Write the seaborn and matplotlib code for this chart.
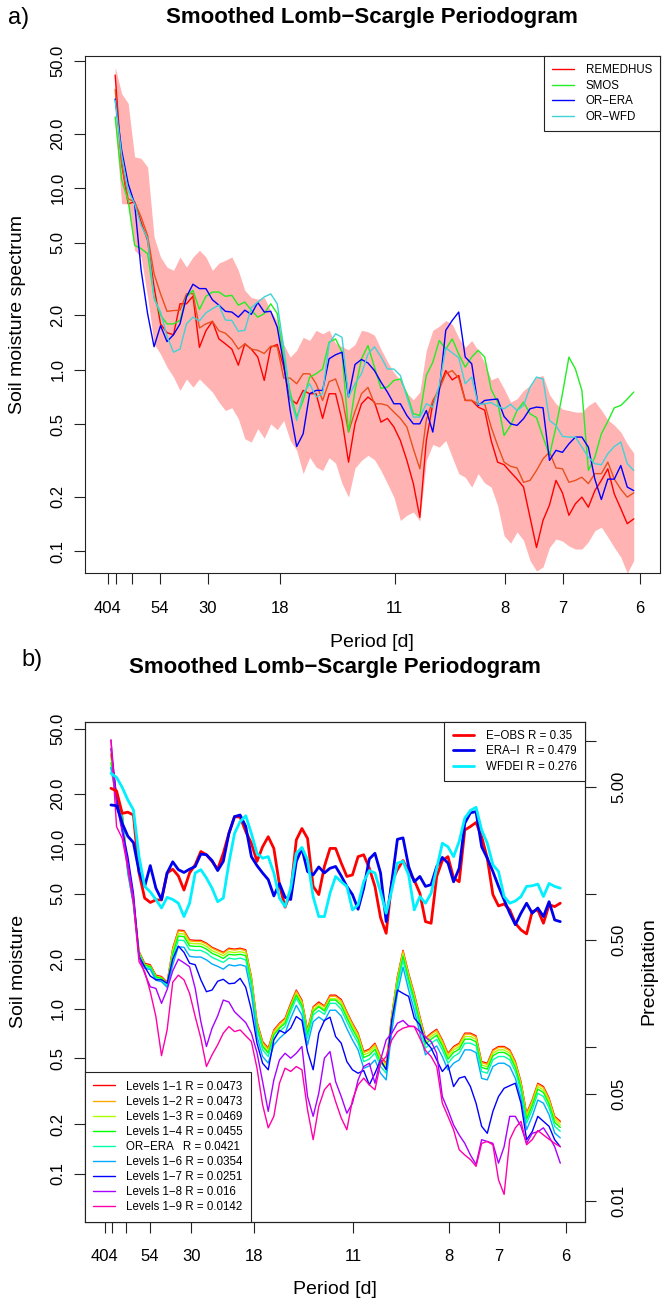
import numpy as np
import pandas as pd
import matplotlib
matplotlib.use("Agg")
import matplotlib.pyplot as plt
import seaborn as sns
from matplotlib.lines import Line2D
from matplotlib.ticker import FixedLocator, NullLocator

sns.set_theme(style="ticks")
plt.rcParams["font.family"] = ["Liberation Sans", "DejaVu Sans"]
for k in ["text.color", "axes.labelcolor", "xtick.color", "ytick.color"]:
    plt.rcParams[k] = "black"

# ---------------- data ----------------
freq = [0.0047, 0.0067, 0.0087, 0.0107, 0.0127, 0.0147, 0.0167, 0.0187, 0.0207, 0.0227,
        0.0247, 0.0267, 0.0287, 0.0307, 0.0327, 0.0347, 0.0367, 0.0387, 0.0407, 0.0427,
        0.0447, 0.0467, 0.0487, 0.0507, 0.0527, 0.0547, 0.0567, 0.0587, 0.0607, 0.0627,
        0.0647, 0.0667, 0.0687, 0.0707, 0.0727, 0.0747, 0.0767, 0.0787, 0.0807, 0.0827,
        0.0847, 0.0867, 0.0887, 0.0907, 0.0927, 0.0947, 0.0967, 0.0987, 0.1007, 0.1027,
        0.1047, 0.1067, 0.1087, 0.1107, 0.1127, 0.1147, 0.1167, 0.1187, 0.1207, 0.1227,
        0.1247, 0.1267, 0.1287, 0.1307, 0.1327, 0.1347, 0.1367, 0.1387, 0.1407, 0.1427,
        0.1447, 0.1467, 0.1487, 0.1507, 0.1527, 0.1547, 0.1567, 0.1587, 0.1607, 0.1627,
        0.1647]

period_ticks = [404, 202, 101, 54, 30, 18, 11, 8, 7, 6]
period_labels = ["404", "", "", "54", "30", "18", "11", "8", "7", "6"]
sm_ticks = [0.1, 0.2, 0.5, 1, 2, 5, 10, 20, 50]
sm_labels = ["0.1", "0.2", "0.5", "1.0", "2.0", "5.0", "10.0", "20.0", "50.0"]
pr_ticks = [0.01, 0.05, 0.1, 0.5, 1, 5, 10]
pr_labels = ["0.01", "0.05", "", "0.50", "", "5.00", ""]

# panel a
remedhus = [42, 13.7, 8.22, 8.4, 6.5, 5.16, 2.86, 1.79, 1.6, 1.56,
            2.31, 2.31, 2.54, 1.33, 1.64, 1.85, 1.48, 1.39, 1.3, 1.06,
            1.39, 1.3, 1.175, 0.874, 1.33, 1.38, 1.035, 0.69, 0.65, 0.77,
            0.738, 0.738, 0.54, 0.738, 0.738, 0.526, 0.31, 0.504, 0.65, 0.708,
            0.664, 0.515, 0.54, 0.484, 0.408, 0.317, 0.236, 0.154, 0.408, 0.65,
            0.803, 0.99, 0.88, 0.93, 0.678, 0.678, 0.623, 0.6, 0.408, 0.31,
            0.3, 0.273, 0.25, 0.226, 0.154, 0.105, 0.148, 0.18, 0.246, 0.21,
            0.158, 0.183, 0.199, 0.175, 0.216, 0.246, 0.285, 0.207, 0.172, 0.142,
            0.151]
remedhus_median = [35, 13.7, 8.75, 8.4, 6.94, 5.5, 3.38, 2.62, 2.1, 2.12,
                   2.13, 2.62, 2.63, 1.7, 1.79, 1.85, 1.64, 1.59, 1.47, 1.3,
                   1.39, 1.3, 1.28, 1.23, 1.35, 1.34, 0.9, 0.9, 0.838, 0.951,
                   0.951, 0.838, 0.678, 0.86, 0.89, 0.708, 0.454, 0.59, 0.738, 0.8,
                   0.65, 0.65, 0.636, 0.585, 0.54, 0.484, 0.367, 0.285, 0.53, 0.678,
                   0.78, 0.951, 0.99, 0.9, 0.678, 0.678, 0.65, 0.65, 0.484, 0.383,
                   0.31, 0.294, 0.288, 0.24, 0.246, 0.279, 0.323, 0.352, 0.288, 0.285,
                   0.24, 0.246, 0.256, 0.236, 0.268, 0.268, 0.31, 0.25, 0.22, 0.199,
                   0.21]
smos = [24.7, 11.1, 8.57, 4.85, 4.65, 4.36, 2.52, 2.0, 1.79, 1.79,
        1.87, 2.52, 2.74, 2.15, 2.54, 2.68, 2.68, 2.54, 2.57, 2.27,
        2.36, 2.13, 1.95, 2.04, 2.31, 2.04, 1.175, 0.754, 0.549, 0.678,
        0.912, 0.951, 1.01, 1.42, 1.48, 1.25, 0.454, 0.77, 1.15, 1.36,
        1.035, 0.79, 0.803, 0.874, 0.89, 0.738, 0.573, 0.56, 0.93, 1.1,
        1.45, 1.3, 1.48, 1.22, 1.035, 1.175, 1.28, 1.175, 0.78, 0.664,
        0.435, 0.494, 0.597, 0.664, 0.573, 0.545, 0.426, 0.338, 0.484, 0.738,
        1.175, 1.01, 0.77, 0.279, 0.33, 0.444, 0.52, 0.618, 0.636, 0.69,
        0.754]
or_era = [31, 16.2, 10.6, 8.22, 3.55, 2.04, 1.34, 1.75, 1.43, 1.56,
          1.79, 2.52, 2.96, 2.8, 2.8, 2.43, 2.27, 2.1, 2.08, 1.95,
          2.13, 2.02, 2.35, 2.08, 2.1, 1.72, 1.08, 0.597, 0.378, 0.444,
          0.738, 0.77, 0.77, 1.15, 1.21, 1.25, 0.708, 1.07, 1.14, 1.09,
          0.99, 0.856, 0.754, 0.65, 0.65, 0.56, 0.504, 0.504, 0.597, 0.454,
          0.77, 1.65, 1.87, 2.08, 1.175, 1.08, 0.636, 0.678, 0.685, 0.69,
          0.553, 0.504, 0.494, 0.538, 0.61, 0.623, 0.618, 0.317, 0.36, 0.351,
          0.391, 0.426, 0.426, 0.375, 0.25, 0.193, 0.25, 0.25, 0.297, 0.226,
          0.216]
or_wfd = [30.5, 15.2, 9.73, 8.22, 6.25, 5.27, 2.46, 2.08, 1.53, 1.25,
          1.3, 1.79, 1.95, 1.86, 2.06, 2.17, 2.27, 1.88, 1.87, 1.63,
          1.65, 2.2, 2.36, 2.52, 2.62, 2.31, 1.33, 0.708, 0.526, 0.738,
          0.838, 0.708, 0.738, 1.39, 1.58, 1.51, 0.708, 0.838, 0.951, 1.22,
          1.34, 1.18, 1.01, 1.01, 0.93, 0.708, 0.549, 0.549, 0.65, 0.623,
          0.82, 1.32, 1.24, 1.165, 0.838, 0.912, 0.645, 0.65, 0.66, 0.628,
          0.61, 0.645, 0.597, 0.636, 0.803, 0.912, 0.89, 0.526, 0.494, 0.43,
          0.426, 0.426, 0.375, 0.33, 0.304, 0.3, 0.345, 0.378, 0.4, 0.304,
          0.279]
band_hi = [46.5, 33.2, 29.4, 14.9, 14.6, 13.1, 5.39, 4.18, 3.68, 3.53,
           4.18, 3.68, 4.18, 4.55, 4.18, 3.53, 3.87, 4.01, 4.18, 3.53,
           2.74, 2.5, 2.45, 2.5, 2.11, 1.85, 1.38, 1.175, 1.28, 1.51,
           1.45, 1.65, 1.58, 1.65, 1.4, 1.34, 1.29, 1.38, 1.65, 1.62,
           1.55, 1.3, 1.11, 0.966, 0.874, 0.745, 0.684, 0.754, 1.28, 1.65,
           1.74, 1.87, 1.78, 1.5, 1.33, 1.45, 1.28, 1.09, 0.88, 0.912,
           0.786, 0.664, 0.693, 0.77, 0.82, 0.912, 0.93, 0.73, 0.65, 0.607,
           0.597, 0.585, 0.585, 0.636, 0.67, 0.6, 0.53, 0.496, 0.454, 0.391,
           0.348]
band_lo = [22.7, 8.22, 8.22, 4.55, 4.18, 2.52, 1.39, 1.22, 1.035, 0.912,
           0.77, 0.89, 0.803, 0.89, 0.82, 0.754, 0.664, 0.597, 0.618, 0.538,
           0.417, 0.4, 0.474, 0.42, 0.504, 0.468, 0.526, 0.408, 0.36, 0.268,
           0.33, 0.291, 0.279, 0.328, 0.306, 0.236, 0.199, 0.288, 0.317, 0.338,
           0.32, 0.279, 0.236, 0.199, 0.148, 0.158, 0.165, 0.147, 0.317, 0.388,
           0.375, 0.408, 0.33, 0.268, 0.256, 0.226, 0.268, 0.238, 0.226, 0.179,
           0.122, 0.111, 0.128, 0.115, 0.089, 0.078, 0.082, 0.105, 0.117, 0.114,
           0.107, 0.103, 0.103, 0.113, 0.13, 0.136, 0.12, 0.105, 0.093, 0.076,
           0.089]

# panel b: precipitation spectra
e_obs = [4.88, 4.69, 3.35, 3.41, 3.27, 1.37, 0.94, 0.88, 0.914, 0.914,
         1.37, 1.45, 1.31, 1.06, 1.37, 1.55, 1.89, 1.8, 1.63, 1.45,
         1.84, 2.48, 3.19, 3.17, 2.55, 2.14, 1.63, 2.03, 2.36, 1.98,
         1.15, 0.82, 1.03, 2.25, 2.67, 2.3, 1.12, 0.99, 1.51, 1.98,
         1.98, 1.59, 1.3, 1.33, 1.75, 1.8, 1.47, 1.12, 0.7, 0.554,
         1.2, 1.44, 1.65, 1.4, 1.23, 1.01, 0.66, 0.644, 1.3, 1.65,
         1.75, 1.27, 1.2, 2.61, 2.75, 2.92, 2.36, 1.71, 0.99, 0.835,
         0.86, 0.787, 0.644, 0.583, 0.549, 0.768, 0.787, 0.644, 0.85, 0.827,
         0.87]
era_i = [3.8, 3.76, 2.89, 2.38, 2.16, 1.4, 1.12, 1.53, 1.09, 0.92,
         1.37, 1.62, 1.44, 1.38, 1.45, 1.51, 1.82, 1.8, 1.65, 1.42,
         1.63, 2.48, 3.19, 3.27, 2.75, 1.75, 1.53, 1.37, 1.24, 0.97,
         1.17, 0.95, 0.92, 1.63, 1.98, 1.4, 1.33, 1.5, 1.37, 1.47,
         1.51, 1.31, 1.12, 0.99, 0.795, 1.09, 1.69, 1.84, 1.37, 0.66,
         1.2, 2.27, 2.32, 1.51, 1.2, 1.3, 1.12, 1.15, 1.51, 1.73,
         1.59, 1.2, 1.47, 2.89, 3.38, 3.44, 2.03, 1.71, 1.4, 1.12,
         0.914, 0.749, 0.63, 0.749, 0.87, 0.749, 0.81, 0.712, 0.89, 0.677,
         0.66]
wfdei = [6.11, 5.75, 4.95, 4.1, 3.53, 1.75, 1.12, 1.03, 0.92, 0.81,
         0.95, 0.92, 0.87, 0.712, 0.87, 1.37, 1.44, 1.27, 1.09, 0.89,
         0.94, 1.59, 2.48, 2.96, 3.23, 2.48, 1.84, 1.71, 1.75, 1.37,
         0.94, 0.827, 1.09, 1.84, 2.01, 1.67, 0.96, 0.712, 0.712, 1.01,
         1.3, 1.2, 1.12, 0.787, 0.85, 1.2, 1.42, 1.37, 1.03, 0.749,
         1.06, 1.59, 1.63, 1.33, 0.787, 0.961, 0.87, 1.01, 1.47, 2.14,
         2.03, 1.75, 2.2, 3.12, 3.5, 3.67, 2.61, 2.14, 1.55, 1.4,
         0.961, 0.87, 0.9, 0.961, 1.12, 1.13, 1.16, 0.961, 1.17, 1.12,
         1.09]

# panel b: soil moisture spectra per level
levels_1_1 = [35, 19.4, 15.3, 7.1, 4.58, 2.23, 1.89, 1.85, 1.6, 1.57,
              1.45, 2.33, 3.0, 2.98, 2.62, 2.6, 2.6, 2.5, 2.36, 2.28,
              2.2, 2.33, 2.3, 2.33, 2.28, 1.57, 0.838, 0.634, 0.578, 0.745,
              0.818, 0.878, 1.08, 1.3, 1.13, 0.745, 1.03, 1.1, 1.04, 1.21,
              1.21, 1.14, 0.96, 0.818, 0.712, 0.551, 0.57, 0.619, 0.514, 0.468,
              0.92, 1.57, 2.26, 1.64, 1.24, 0.898, 0.664, 0.712, 0.752, 0.648,
              0.538, 0.591, 0.619, 0.712, 0.712, 0.686, 0.479, 0.468, 0.564, 0.591,
              0.591, 0.564, 0.479, 0.362, 0.233, 0.281, 0.354, 0.338, 0.288, 0.223,
              0.208]
levels_1_2 = [35, 19.4, 15.2, 7.0, 4.5, 2.2, 1.86, 1.82, 1.58, 1.55,
              1.43, 2.3, 2.96, 2.94, 2.58, 2.56, 2.56, 2.47, 2.33, 2.25,
              2.17, 2.3, 2.27, 2.3, 2.25, 1.55, 0.826, 0.625, 0.57, 0.735,
              0.807, 0.866, 1.06, 1.28, 1.11, 0.735, 1.02, 1.08, 1.03, 1.19,
              1.19, 1.12, 0.947, 0.807, 0.702, 0.543, 0.562, 0.61, 0.507, 0.461,
              0.907, 1.55, 2.23, 1.62, 1.22, 0.885, 0.655, 0.702, 0.741, 0.639,
              0.53, 0.583, 0.61, 0.702, 0.702, 0.676, 0.472, 0.461, 0.556, 0.583,
              0.583, 0.556, 0.472, 0.357, 0.23, 0.277, 0.349, 0.333, 0.284, 0.22,
              0.205]
levels_1_3 = [33, 19.0, 15.0, 6.96, 4.49, 2.19, 1.85, 1.81, 1.57, 1.54,
              1.42, 2.22, 2.86, 2.84, 2.5, 2.48, 2.48, 2.39, 2.25, 2.18,
              2.1, 2.22, 2.19, 2.22, 2.18, 1.5, 0.8, 0.605, 0.551, 0.711,
              0.78, 0.838, 1.03, 1.24, 1.08, 0.711, 0.983, 1.05, 0.992, 1.15,
              1.15, 1.09, 0.916, 0.78, 0.679, 0.526, 0.544, 0.591, 0.49, 0.446,
              0.878, 1.5, 2.16, 1.56, 1.18, 0.857, 0.633, 0.679, 0.717, 0.618,
              0.513, 0.564, 0.591, 0.679, 0.679, 0.654, 0.457, 0.446, 0.538, 0.564,
              0.564, 0.538, 0.457, 0.345, 0.222, 0.268, 0.338, 0.322, 0.275, 0.213,
              0.198]
levels_1_4 = [31, 18.9, 14.9, 6.9, 4.45, 2.17, 1.84, 1.8, 1.56, 1.53,
              1.41, 2.14, 2.76, 2.74, 2.41, 2.39, 2.39, 2.3, 2.17, 2.1,
              2.02, 2.14, 2.12, 2.14, 2.1, 1.44, 0.782, 0.592, 0.539, 0.695,
              0.763, 0.819, 1.01, 1.21, 1.05, 0.695, 0.961, 1.03, 0.97, 1.13,
              1.13, 1.05, 0.883, 0.753, 0.655, 0.507, 0.524, 0.569, 0.473, 0.431,
              0.846, 1.44, 2.08, 1.51, 1.14, 0.826, 0.611, 0.655, 0.692, 0.596,
              0.495, 0.544, 0.569, 0.655, 0.655, 0.631, 0.441, 0.431, 0.519, 0.544,
              0.544, 0.519, 0.441, 0.333, 0.214, 0.259, 0.326, 0.311, 0.265, 0.205,
              0.191]
levels_or_era = [29, 18.5, 14.6, 6.77, 4.37, 2.13, 1.8, 1.76, 1.53, 1.5,
                 1.38, 2.03, 2.61, 2.59, 2.28, 2.26, 2.26, 2.18, 2.05, 1.98,
                 1.91, 2.03, 2.0, 2.03, 1.98, 1.37, 0.746, 0.564, 0.514, 0.663,
                 0.728, 0.781, 0.961, 1.16, 1.01, 0.663, 0.917, 0.979, 0.926, 1.08,
                 1.08, 0.992, 0.835, 0.712, 0.619, 0.479, 0.496, 0.539, 0.447, 0.407,
                 0.8, 1.37, 1.97, 1.43, 1.08, 0.781, 0.578, 0.619, 0.654, 0.564,
                 0.468, 0.514, 0.539, 0.619, 0.619, 0.597, 0.417, 0.407, 0.491, 0.514,
                 0.514, 0.491, 0.417, 0.315, 0.203, 0.244, 0.308, 0.294, 0.251, 0.194,
                 0.181]
levels_1_6 = [29, 18.1, 14.3, 6.62, 4.27, 2.08, 1.76, 1.73, 1.49, 1.46,
              1.35, 1.85, 2.38, 2.36, 2.08, 2.06, 2.06, 1.98, 1.87, 1.81,
              1.74, 1.85, 1.82, 1.85, 1.81, 1.24, 0.68, 0.514, 0.469, 0.604,
              0.663, 0.712, 0.876, 1.05, 0.916, 0.604, 0.835, 0.892, 0.843, 0.981,
              0.981, 0.903, 0.76, 0.648, 0.564, 0.436, 0.451, 0.49, 0.407, 0.371,
              0.729, 1.24, 1.79, 1.3, 0.982, 0.711, 0.526, 0.564, 0.596, 0.513,
              0.426, 0.468, 0.49, 0.564, 0.564, 0.543, 0.379, 0.371, 0.447, 0.468,
              0.468, 0.447, 0.379, 0.287, 0.185, 0.223, 0.28, 0.268, 0.228, 0.177,
              0.165]
levels_1_7 = [37.8, 19.4, 12.2, 8.4, 5.03, 2.07, 1.8, 1.58, 1.5, 1.5,
              1.43, 2.0, 2.4, 2.2, 1.89, 1.85, 1.5, 1.27, 1.3, 1.47,
              1.51, 1.42, 1.43, 1.53, 1.35, 0.985, 0.619, 0.468, 0.427, 0.648,
              0.74, 0.712, 0.763, 0.898, 0.85, 0.551, 0.427, 0.712, 0.85, 0.89,
              0.679, 0.619, 0.479, 0.427, 0.407, 0.423, 0.346, 0.407, 0.49, 0.427,
              0.857, 1.3, 1.24, 1.19, 0.878, 0.8, 0.634, 0.578, 0.49, 0.417,
              0.458, 0.338, 0.38, 0.389, 0.338, 0.268, 0.194, 0.176, 0.239, 0.294,
              0.33, 0.342, 0.354, 0.268, 0.161, 0.18, 0.223, 0.208, 0.194, 0.161,
              0.146]
levels_1_8 = [42.6, 17.6, 11.8, 7.65, 4.8, 2.07, 1.64, 1.36, 1.33, 1.08,
              1.31, 1.7, 2.0, 1.9, 1.8, 1.33, 0.838, 0.591, 0.763, 0.906,
              1.13, 1.1, 0.96, 0.89, 0.825, 0.712, 0.543, 0.362, 0.239, 0.371,
              0.49, 0.538, 0.502, 0.538, 0.591, 0.294, 0.223, 0.308, 0.502, 0.551,
              0.362, 0.294, 0.233, 0.268, 0.371, 0.447, 0.468, 0.354, 0.49, 0.648,
              0.712, 0.818, 0.85, 0.788, 0.781, 0.728, 0.673, 0.634, 0.538, 0.294,
              0.244, 0.198, 0.172, 0.153, 0.13, 0.114, 0.161, 0.157, 0.153, 0.116,
              0.146, 0.223, 0.223, 0.194, 0.153, 0.176, 0.18, 0.19, 0.168, 0.146,
              0.116]
levels_1_9 = [42.6, 12.7, 10.8, 7.13, 4.37, 1.93, 1.68, 1.27, 0.898, 0.52,
              0.745, 1.45, 1.6, 1.5, 1.24, 0.898, 0.664, 0.447, 0.526, 0.605,
              0.712, 0.781, 0.728, 0.745, 0.686, 0.634, 0.437, 0.262, 0.19, 0.223,
              0.354, 0.437, 0.417, 0.447, 0.427, 0.244, 0.161, 0.256, 0.323, 0.354,
              0.274, 0.218, 0.185, 0.281, 0.346, 0.38, 0.346, 0.323, 0.468, 0.514,
              0.648, 0.728, 0.763, 0.781, 0.781, 0.664, 0.559, 0.514, 0.447, 0.268,
              0.223, 0.185, 0.14, 0.13, 0.122, 0.111, 0.153, 0.157, 0.15, 0.092,
              0.075, 0.161, 0.19, 0.208, 0.15, 0.161, 0.183, 0.172, 0.162, 0.153,
              0.146]

# ---------------- figure ----------------
W, H = 662, 1302
fig = plt.figure(figsize=(W / 100, H / 100), dpi=100)


def px_axes(left, top, right, bottom):
    return fig.add_axes([left / W, 1 - bottom / H, (right - left) / W, (bottom - top) / H])


axA = px_axes(84.7, 56, 660, 573)
axB = px_axes(84.7, 721.7, 585, 1221.5)

TICK_FS = 12
LAB_FS = 14
LEG_FS = 8.3
EDGE = "#222222"


def style_axes(ax, xlim, ylim):
    ax.set_yscale("log")
    ax.set_xlim(*xlim)
    ax.set_ylim(*ylim)
    ax.xaxis.set_major_locator(FixedLocator([1.0 / p for p in period_ticks]))
    ax.set_xticklabels(period_labels)
    ax.xaxis.set_minor_locator(NullLocator())
    ax.yaxis.set_major_locator(FixedLocator(sm_ticks))
    ax.yaxis.set_minor_locator(NullLocator())
    ax.set_yticklabels(sm_labels, rotation=90, va="center")
    ax.tick_params(axis="both", which="major", direction="out", length=8, width=0.8,
                   color=EDGE, labelsize=TICK_FS)
    ax.tick_params(axis="x", pad=12)
    ax.tick_params(axis="y", pad=6)
    for s in ax.spines.values():
        s.set_visible(True)
        s.set_color(EDGE)
        s.set_linewidth(0.8)


def make_legend(ax, handles, labels, loc, anchor, spacing):
    leg = ax.legend(handles, labels, loc=loc, bbox_to_anchor=anchor,
                    borderaxespad=0, fontsize=LEG_FS, frameon=True, fancybox=False,
                    edgecolor=EDGE, framealpha=1, handlelength=1.9, handletextpad=1.0,
                    borderpad=0.7, labelspacing=spacing)
    leg.get_frame().set_linewidth(0.8)
    return leg


# ---- panel a ----
names_a = ["REMEDHUS", "REMEDHUS median", "SMOS", "OR−ERA", "OR−WFD"]
vals_a = [remedhus, remedhus_median, smos, or_era, or_wfd]
cols_a = ["#FF0000", "#E8501E", "#22EE22", "#0000FF", "#3FD3D8"]
dfA = pd.DataFrame({
    "freq": np.tile(freq, len(names_a)),
    "value": np.concatenate(vals_a),
    "series": np.repeat(names_a, len(freq)),
})
axA.set_yscale("log")
axA.fill_between(freq, band_lo, band_hi, color="#FFB3B3", lw=0, zorder=1)
sns.lineplot(data=dfA, x="freq", y="value", hue="series", hue_order=names_a,
             palette=dict(zip(names_a, cols_a)), estimator=None, sort=False,
             linewidth=1.0, legend=False, ax=axA, zorder=2)
style_axes(axA, (-0.0047, 0.1728), (0.076, 53.5))
axA.set_xlabel("Period [d]", fontsize=LAB_FS)
axA.xaxis.set_label_coords(0.5, -0.1335)
axA.xaxis.label.set_va("center")
axA.set_ylabel("Soil moisture spectrum", fontsize=LAB_FS)
axA.yaxis.set_label_coords(-0.116, 0.5)
axA.yaxis.label.set_va("center")

legA_names = ["REMEDHUS", "SMOS", "OR−ERA", "OR−WFD"]
legA_cols = ["#FF0000", "#22EE22", "#0000FF", "#3FD3D8"]
hA = [Line2D([], [], color=c, lw=1.0) for c in legA_cols]
make_legend(axA, hA, legA_names, "upper right", (1, 1), 0.32)

# ---- panel b ----
names_sm = ["Levels 1−1 R = 0.0473", "Levels 1−2 R = 0.0473", "Levels 1−3 R = 0.0469",
            "Levels 1−4 R = 0.0455", "OR−ERA   R = 0.0421", "Levels 1−6 R = 0.0354",
            "Levels 1−7 R = 0.0251", "Levels 1−8 R = 0.016", "Levels 1−9 R = 0.0142"]
vals_sm = [levels_1_1, levels_1_2, levels_1_3, levels_1_4, levels_or_era,
           levels_1_6, levels_1_7, levels_1_8, levels_1_9]
cols_sm = ["#FF0000", "#FFAA00", "#AAFF00", "#00FF00", "#00FFAA",
           "#00AAFF", "#0000FF", "#AA00FF", "#FF00AA"]
dfB = pd.DataFrame({
    "freq": np.tile(freq, len(names_sm)),
    "value": np.concatenate(vals_sm),
    "series": np.repeat(names_sm, len(freq)),
})
axB.set_yscale("log")
sns.lineplot(data=dfB, x="freq", y="value", hue="series", hue_order=names_sm,
             palette=dict(zip(names_sm, cols_sm)), estimator=None, sort=False,
             linewidth=1.0, legend=False, ax=axB)
style_axes(axB, (-0.00465, 0.1735), (0.0514, 55))
axB.set_xlabel("Period [d]", fontsize=LAB_FS)
axB.xaxis.set_label_coords(0.5, -0.137)
axB.xaxis.label.set_va("center")
axB.set_ylabel("Soil moisture", fontsize=LAB_FS)
axB.yaxis.set_label_coords(-0.1333, 0.5)
axB.yaxis.label.set_va("center")

axB2 = axB.twinx()
axB2.set_yscale("log")
names_pr = ["E−OBS R = 0.35", "ERA−I  R = 0.479", "WFDEI R = 0.276"]
vals_pr = [e_obs, era_i, wfdei]
cols_pr = ["#FF0000", "#0000EE", "#00F0FF"]
dfP = pd.DataFrame({
    "freq": np.tile(freq, len(names_pr)),
    "value": np.concatenate(vals_pr),
    "series": np.repeat(names_pr, len(freq)),
})
sns.lineplot(data=dfP, x="freq", y="value", hue="series", hue_order=names_pr,
             palette=dict(zip(names_pr, cols_pr)), estimator=None, sort=False,
             linewidth=2.0, legend=False, ax=axB2)
axB2.set_xlim(-0.00465, 0.1735)
axB2.set_ylim(0.00733, 13.26)
axB2.yaxis.set_major_locator(FixedLocator(pr_ticks))
axB2.yaxis.set_minor_locator(NullLocator())
axB2.set_yticklabels(pr_labels, rotation=90, va="center")
axB2.tick_params(axis="y", which="major", direction="out", length=8, width=0.8,
                 color=EDGE, labelsize=TICK_FS, pad=11)
for s in axB2.spines.values():
    s.set_color(EDGE)
    s.set_linewidth(0.8)
axB2.set_xlabel("")
axB2.set_ylabel("Precipitation", fontsize=LAB_FS)
axB2.yaxis.set_label_coords(1.128, 0.5)
axB2.yaxis.label.set_va("center")

hP = [Line2D([], [], color=c, lw=2.0) for c in cols_pr]
legP = make_legend(axB2, hP, names_pr, "upper right", (1, 1), 0.32)
axB2.add_artist(legP)
hS = [Line2D([], [], color=c, lw=1.0) for c in cols_sm]
make_legend(axB2, hS, names_sm, "lower left", (0, 0), 0.27)

# ---- titles ----
title = "Smoothed Lomb−Scargle Periodogram"
fig.text(0.012, 1 - 18 / H, "a)", fontsize=17, ha="left", va="center")
fig.text((84.7 + 660) / 2 / W, 1 - 18 / H, title, fontsize=16, fontweight="bold",
         ha="center", va="center")
fig.text(0.033, 1 - 660 / H, "b)", fontsize=17, ha="left", va="center")
fig.text((84.7 + 585) / 2 / W, 1 - 668 / H, title, fontsize=16, fontweight="bold",
         ha="center", va="center")

fig.savefig("out.png", dpi=100)
